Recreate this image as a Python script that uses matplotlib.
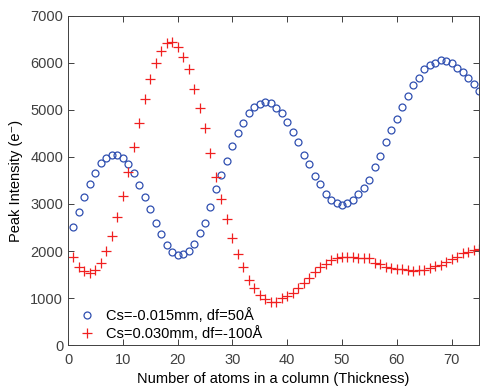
import numpy as np
import matplotlib
matplotlib.use('Agg')
import matplotlib.pyplot as plt

plt.rcParams['font.family'] = ['Liberation Sans', 'DejaVu Sans']

# number of atoms in the column
thickness = np.arange(1, 76)

# Cs=-0.015mm, df=50A
blue = [2517, 2836, 3155, 3426, 3670, 3866, 3979, 4049, 4036, 3979,
        3845, 3655, 3398, 3142, 2887, 2602, 2362, 2121, 1986, 1915,
        1930, 2006, 2155, 2376, 2602, 2936, 3313, 3623, 3908, 4234,
        4504, 4723, 4930, 5057, 5134, 5160, 5155, 5049, 4930, 4738,
        4538, 4319, 4049, 3845, 3602, 3419, 3213, 3091, 3021, 2979,
        3014, 3091, 3213, 3333, 3517, 3794, 4028, 4319, 4574, 4815,
        5064, 5291, 5538, 5681, 5866, 5951, 5993, 6070, 6049, 6000,
        5900, 5802, 5681, 5560, 5411]

# Cs=0.030mm, df=-100A
red = [1866, 1666, 1574, 1525, 1596, 1751, 1993, 2319, 2730, 3177,
       3687, 4213, 4730, 5228, 5653, 6006, 6262, 6432, 6453, 6334,
       6121, 5879, 5453, 5036, 4617, 4079, 3564, 3106, 2687, 2270,
       1930, 1653, 1383, 1213, 1071, 979, 908, 915, 994, 1049,
       1113, 1206, 1326, 1419, 1547, 1660, 1723, 1809, 1845, 1872,
       1879, 1872, 1857, 1857, 1851, 1751, 1717, 1666, 1645, 1617,
       1617, 1589, 1574, 1596, 1596, 1645, 1687, 1709, 1772, 1823,
       1879, 1950, 1986, 2014, 2049]

labels = ['Cs=-0.015mm, df=50Å', 'Cs=0.030mm, df=-100Å']

fig = plt.figure(figsize=(4.81, 3.88), dpi=100)
ax = fig.add_axes([0.1414, 0.1108, 0.8544, 0.848])

ax.plot(thickness, blue, 'o', mfc='none', mec='#2f4fb0', ms=5, mew=0.9, label=labels[0])
ax.plot(thickness, red, '+', color='#f02020', ms=6.5, mew=0.9, label=labels[1])

ax.set_xlim(0, 75)
ax.set_ylim(0, 7000)
ax.set_xticks(range(0, 71, 10))
ax.set_yticks(range(0, 7001, 1000))
ax.tick_params(direction='in', top=True, right=True, labelsize=10.5,
               colors='#404040', length=4, width=0.7)
ax.tick_params(axis='x', pad=6)
for s in ax.spines.values():
    s.set_color('#404040')
    s.set_linewidth(0.7)

ax.set_xlabel('Number of atoms in a column (Thickness)', fontsize=10.5, labelpad=3)
ax.set_ylabel('Peak Intensity (e⁻)', fontsize=10.5, labelpad=5)

ax.legend(loc='lower left', frameon=False, fontsize=10.5, handletextpad=0.7,
          handlelength=1.3, borderaxespad=0.0, labelspacing=0.2,
          bbox_to_anchor=(0.008, -0.005))

fig.savefig('out.png', dpi=100)
